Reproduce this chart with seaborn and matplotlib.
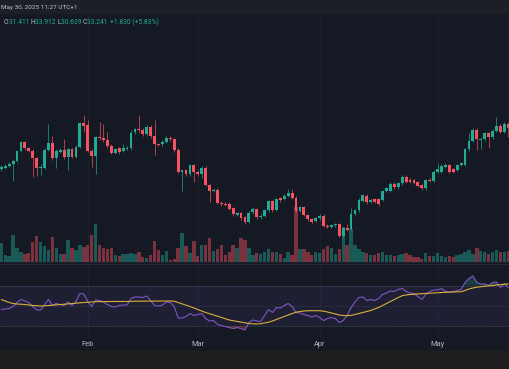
import numpy as np
import pandas as pd
import matplotlib
matplotlib.use("Agg")
import matplotlib.pyplot as plt
import seaborn as sns

# daily candles, 10 Jan 2025 -> 19 May 2025
start_date = "2025-01-10"

opens = [30.18, 30.30, 30.45, 30.55, 30.83, 31.55, 32.20, 31.75, 31.55, 31.00,
         30.25, 30.30, 31.63, 32.18, 31.00, 31.50, 31.63, 31.08, 31.70, 31.13,
         31.88, 33.63, 33.50, 31.58, 31.18, 32.60, 32.53, 32.38, 31.93, 31.43,
         31.75, 31.55, 31.70, 31.75, 32.95, 33.18, 33.10, 32.83, 33.38, 32.70,
         32.05, 32.05, 32.25, 32.55, 32.43, 31.63, 30.00, 30.10, 29.80, 30.48,
         29.98, 29.80, 30.28, 29.00, 28.55, 28.63, 27.68, 27.58, 27.58, 27.25,
         26.75, 26.88, 26.60, 26.25, 26.95, 27.20, 26.58, 26.68, 27.10, 27.80,
         27.13, 28.00, 27.95, 28.18, 28.38, 28.05, 27.05, 27.33, 26.75, 26.43,
         26.30, 26.50, 26.68, 25.95, 25.88, 25.98, 26.05, 25.18, 25.80, 25.70,
         26.85, 27.10, 27.83, 28.20, 27.75, 27.93, 27.93, 27.88, 28.55, 28.58,
         29.08, 28.83, 29.13, 29.63, 29.40, 29.35, 29.20, 29.00, 28.75, 29.40,
         29.30, 30.00, 30.00, 30.38, 30.50, 30.18, 30.13, 30.50, 30.50, 31.68,
         32.33, 33.13, 32.40, 32.43, 32.88, 32.58, 33.08, 33.43, 33.00, 33.58]
closes = [30.38, 30.45, 30.60, 30.83, 31.55, 32.20, 31.75, 31.58, 31.00, 30.25,
          30.35, 31.63, 32.18, 31.00, 31.58, 31.63, 31.08, 31.70, 31.10, 31.88,
          33.63, 33.45, 31.58, 31.18, 32.58, 32.50, 32.38, 31.93, 31.43, 31.68,
          31.48, 31.75, 31.80, 32.93, 33.18, 33.10, 32.83, 33.38, 32.70, 32.05,
          32.02, 32.25, 32.55, 32.43, 31.63, 30.00, 30.10, 29.80, 30.48, 30.00,
          29.80, 30.28, 29.00, 28.58, 28.63, 27.68, 27.55, 27.50, 27.20, 26.80,
          26.90, 26.50, 26.20, 26.93, 27.20, 26.58, 26.68, 27.10, 27.80, 27.13,
          27.93, 27.85, 28.20, 28.43, 28.05, 27.05, 27.33, 26.75, 26.43, 26.25,
          26.50, 26.68, 25.93, 25.88, 26.00, 26.05, 25.18, 25.75, 25.65, 26.85,
          27.10, 27.88, 28.25, 27.70, 27.88, 27.75, 27.55, 28.55, 28.75, 29.08,
          28.83, 29.13, 29.63, 29.25, 29.25, 29.18, 28.95, 28.75, 29.35, 29.30,
          30.00, 30.18, 30.45, 30.50, 30.00, 29.98, 30.50, 30.63, 31.70, 32.33,
          33.13, 32.43, 32.48, 32.88, 32.58, 33.08, 33.43, 33.00, 33.58, 33.30]
highs = [30.50, 30.58, 30.75, 30.95, 31.65, 32.30, 32.28, 31.85, 31.68, 31.10,
         30.55, 31.75, 33.58, 32.68, 31.70, 31.75, 32.45, 31.80, 31.80, 32.00,
         33.75, 34.25, 33.88, 31.70, 32.70, 33.75, 33.60, 33.00, 32.05, 31.80,
         31.85, 32.10, 31.95, 33.10, 33.30, 34.25, 33.25, 33.50, 33.50, 33.88,
         32.15, 32.35, 32.65, 32.65, 32.55, 31.75, 30.13, 30.20, 30.60, 30.60,
         30.10, 30.40, 30.40, 29.10, 28.75, 28.75, 27.80, 27.70, 27.70, 27.35,
         27.00, 27.00, 26.70, 27.05, 27.35, 27.30, 26.80, 27.20, 27.90, 27.90,
         28.05, 28.10, 28.30, 28.70, 28.70, 28.15, 27.45, 27.45, 26.85, 26.55,
         26.60, 26.80, 26.80, 26.05, 26.10, 26.15, 26.15, 25.85, 26.10, 27.30,
         27.20, 28.00, 28.35, 28.35, 28.00, 28.05, 28.05, 28.65, 28.85, 29.20,
         29.20, 29.25, 29.75, 29.75, 29.50, 29.45, 29.30, 29.10, 29.45, 29.55,
         30.10, 30.65, 30.55, 30.65, 30.60, 30.28, 30.60, 30.75, 31.80, 32.90,
         33.25, 33.25, 32.60, 33.00, 33.00, 33.20, 34.13, 33.55, 33.70, 33.70]
lows = [30.05, 30.20, 30.35, 29.33, 30.72, 31.45, 31.60, 31.45, 29.63, 29.70,
        29.75, 30.20, 31.55, 30.90, 30.28, 31.40, 30.95, 30.13, 31.00, 31.00,
        31.80, 33.00, 31.45, 30.38, 29.83, 32.40, 32.25, 31.80, 31.30, 31.30,
        31.35, 31.45, 31.60, 31.65, 32.85, 33.00, 32.70, 32.70, 32.55, 31.25,
        31.90, 31.95, 32.15, 32.30, 31.50, 29.90, 28.58, 29.65, 29.70, 29.25,
        29.70, 29.55, 28.90, 27.75, 28.45, 27.55, 27.45, 27.40, 27.10, 26.70,
        26.65, 26.40, 26.10, 26.15, 26.85, 26.45, 26.48, 26.58, 27.00, 27.00,
        27.05, 27.75, 27.85, 28.08, 27.95, 26.95, 26.95, 26.65, 26.33, 26.15,
        26.20, 26.40, 25.83, 25.78, 25.78, 25.88, 25.08, 25.08, 25.55, 25.60,
        26.75, 27.00, 27.73, 27.60, 27.65, 27.65, 27.45, 27.78, 28.45, 28.48,
        28.73, 28.73, 29.03, 29.15, 29.15, 29.08, 28.85, 28.60, 28.65, 29.20,
        29.20, 29.90, 29.90, 30.28, 29.90, 29.88, 30.03, 30.40, 30.40, 31.58,
        32.23, 31.63, 31.70, 32.33, 31.80, 32.48, 32.98, 32.90, 32.90, 32.63]
# volume, thousands
volumes = [1870, 700, 600, 2700, 1430, 1030, 800, 930, 2030, 2600,
           2030, 1600, 1200, 2470, 1430, 800, 800, 2200, 1370, 1200,
           1700, 1500, 1700, 2700, 3800, 1700, 1400, 1300, 1400, 700,
           600, 800, 800, 930, 770, 1000, 500, 400, 730, 2070,
           1170, 670, 1130, 200, 270, 1400, 2900, 1600, 900, 2070,
           570, 1670, 1670, 2400, 1070, 1330, 1730, 670, 1000, 1670,
           1430, 2400, 2230, 1430, 670, 900, 830, 1000, 1330, 1000,
           1000, 830, 430, 1000, 670, 5500, 1330, 1270, 1000, 730,
           1000, 900, 1270, 1600, 1400, 830, 1270, 3500, 1730, 3300,
           1730, 1270, 1000, 930, 730, 730, 930, 1000, 670, 730,
           600, 730, 830, 900, 670, 500, 500, 330, 930, 600,
           600, 900, 600, 470, 600, 500, 730, 830, 1000, 1170,
           770, 1400, 1100, 1000, 830, 1000, 1230, 1000, 1000, 1100]
rsi = [46, 46.5, 47, 49, 53, 56, 54.5, 53, 49, 45.5,
       45.5, 51, 56, 50, 52, 51, 50, 53.5, 50, 54,
       62, 61.5, 54, 49, 55.5, 55, 53.5, 51, 49, 48.5,
       50, 50.5, 50.5, 57, 58.5, 58.5, 58, 59.5, 55, 50,
       49.5, 50.5, 53.5, 53, 49, 37.5, 37.5, 39, 42, 40,
       41, 42, 37, 34.5, 35, 31, 30, 29, 28, 27,
       28, 27, 25.5, 33, 35.5, 34.5, 34, 40, 46, 43,
       48, 47.5, 50, 52, 49, 43, 42.5, 41, 40, 38.5,
       40, 38, 35, 37, 38, 37, 33, 35, 40, 48,
       53.5, 58, 58.5, 55, 56, 55, 57, 61, 62.5, 64.5,
       64, 66, 67, 64, 62.5, 62, 59, 56, 61, 64,
       65.5, 65.5, 67, 64, 63.5, 64, 65, 66, 73, 77,
       79.5, 73, 71.5, 71.5, 70, 73, 73.5, 68, 72, 68]
rsi_ma = [56, 54.5, 53, 52, 51.5, 51.3, 51, 50.5, 50, 49.7,
          49.5, 49.7, 50, 50.3, 50.6, 51, 51.3, 51.6, 52, 52.3,
          52.7, 53, 53.3, 53.5, 53.8, 53.8, 53.9, 54, 54, 54,
          54, 54, 54, 54.2, 54.3, 54.3, 54.3, 54.4, 54.4, 54.4,
          54.5, 54.5, 54.5, 54.5, 54.3, 53, 51.8, 50.5, 49, 47.5,
          46, 44.5, 43, 41.8, 40.5, 39.3, 38, 36.8, 35.5, 34.8,
          34, 33.3, 32.6, 32, 31.6, 31.5, 31.8, 32.5, 33.3, 34.5,
          36, 37.5, 39, 40.5, 42, 43.3, 44, 44.5, 44.8, 44.8,
          44.8, 44.8, 44.3, 43.5, 42.5, 41.5, 40.5, 40, 39.8, 40.2,
          41, 42, 43, 44, 45, 46.5, 48, 50, 52, 54,
          56, 58, 59.8, 60.5, 61, 61.3, 61.6, 61.8, 62, 62.3,
          62.5, 62.8, 63, 63.2, 63.3, 63.5, 63.6, 63.8, 65, 66.5,
          67.5, 68.3, 68.8, 69.3, 69.7, 70, 70.5, 70.8, 71.2, 71.5]

header = "May 30, 2025 11:27 UTC+1"
ohlc_labels = ["O", "H", "L", "C"]
ohlc_values = ["31.411", "33.912", "30.639", "33.241"]
change_text = "+1.830 (+5.83%)"

BG = "#151924"
UP = "#22ab94"
DOWN = "#f7525f"
GRID = "#1d2130"
TXT = "#b2b5be"

sns.set_theme(style="dark", rc={"axes.facecolor": BG, "figure.facecolor": BG})
plt.rcParams["font.family"] = ["Roboto", "DejaVu Sans"]

df = pd.DataFrame({
    "date": pd.date_range(start_date, periods=len(opens)),
    "open": opens, "high": highs, "low": lows, "close": closes,
    "volume": volumes, "rsi": rsi, "rsi_ma": rsi_ma,
})
df["idx"] = np.arange(len(df))
up = df["close"] >= df["open"]
colors = np.where(up, UP, DOWN)

W, H = 510, 369
fig = plt.figure(figsize=(W / 100, H / 100), dpi=100)

def box(top, bottom):
    return [0, (H - bottom) / H, 1, (bottom - top) / H]

ax = fig.add_axes(box(13, 263))
axv = fig.add_axes(box(13, 263), sharex=ax)
axr = fig.add_axes(box(264, 338), sharex=ax)
axv.patch.set_alpha(0)
axv.set_zorder(0)
ax.set_zorder(1)
ax.patch.set_alpha(0)

# header / footer strips
fig.patches.append(plt.Rectangle((0, (H - 13) / H), 1, 13 / H, transform=fig.transFigure,
                                 color="#1c1f28", zorder=-1))
fig.patches.append(plt.Rectangle((0, 0), 1, 18 / H, transform=fig.transFigure,
                                 color="#1f1f1f", zorder=-1))

xlim = (-0.33, -0.33 + W / 3.93)
month_ticks = df.index[df["date"].dt.day == 1]
month_labels = df.loc[month_ticks, "date"].dt.strftime("%b")

# volume
axv.bar(df["idx"], df["volume"], width=0.86, color=colors, alpha=0.45, linewidth=0)
axv.set_ylim(-100, 24900)

# candles
ax.vlines(df["idx"], df["low"], df["high"], color=colors, linewidth=0.55, alpha=0.85)
body_lo = np.minimum(df["open"], df["close"])
body_h = np.maximum((df["close"] - df["open"]).abs(), 0.06)
ax.bar(df["idx"], body_h, bottom=body_lo, width=0.72, color=colors, linewidth=0)
ax.set_ylim(23.15, 41.9)
ax.set_xlim(*xlim)

for a in (ax, axv):
    a.set_yticks([23.75, 27.5, 31.25, 35, 38.75])
    a.tick_params(left=False, bottom=False, labelleft=False, labelbottom=False)
    for s in a.spines.values():
        s.set_visible(False)
axv.grid(True, color=GRID, linewidth=0.6)
axv.set_xticks(month_ticks)
ax.grid(False)

# rsi pane
axr.axhspan(30, 70, color="#7e57c2", alpha=0.1, linewidth=0)
for lvl, a_ in ((70, 0.7), (50, 0.35), (30, 0.7)):
    axr.axhline(lvl, color="#787b86", linestyle=(0, (1.5, 1.5)), linewidth=0.5, alpha=a_)
r = np.array(rsi)
axr.fill_between(df["idx"], 70, r, where=r > 70, color="#22ab94", alpha=0.25,
                 linewidth=0, interpolate=True)
axr.fill_between(df["idx"], 30, r, where=r < 30, color="#f7525f", alpha=0.25,
                 linewidth=0, interpolate=True)
sns.lineplot(data=df, x="idx", y="rsi", ax=axr, color="#7e57c2", linewidth=0.8)
sns.lineplot(data=df, x="idx", y="rsi_ma", ax=axr, color="#d9b13a", linewidth=0.8)
axr.set_ylim(17.5, 91.5)
axr.set_xlim(*xlim)
axr.set_xticks(month_ticks)
axr.set_xticklabels(month_labels)
axr.set_xlabel("")
axr.set_ylabel("")
axr.set_yticks([])
axr.grid(True, axis="x", color=GRID, linewidth=0.6)
axr.tick_params(axis="x", length=0, pad=2.5, labelsize=5.3, labelcolor=TXT)
for s in axr.spines.values():
    s.set_visible(False)
axr.spines["top"].set_visible(True)
axr.spines["top"].set_color("#262a36")
axr.spines["top"].set_linewidth(0.8)

# texts: header, then the OHLC legend chained piece by piece
renderer = fig.canvas.get_renderer()
t = fig.text(1 / W, 1 - 7 / H, header, color="#c3c6cd", fontsize=5, va="center", ha="left")
w = t.get_window_extent(renderer).width
t.set_fontsize(5 * 77 / w)

pieces = []
for lab, val in zip(ohlc_labels, ohlc_values):
    pieces += [(lab, TXT), (val + " ", UP)]
pieces.append((change_text, UP))

def draw_chain(fs):
    arts = []
    prev = fig.text(4 / W, 1 - 22 / H, pieces[0][0], color=pieces[0][1], fontsize=fs,
                    va="center", ha="left")
    arts.append(prev)
    for txt, col in pieces[1:]:
        prev = fig.text(0, 0, txt, color=col, fontsize=fs, va="center", ha="left",
                        transform=prev.get_transform())
        arts.append(prev)
    return arts

fs = 5
arts = draw_chain(fs)
x = 4
for a in arts:
    a.set_position((x / W, 1 - 22 / H))
    x += a.get_window_extent(renderer).width
scale = 158 / (x - 4)
x = 4
for a in arts:
    a.set_fontsize(fs * scale)
    a.set_position((x / W, 1 - 22 / H))
    x += a.get_window_extent(renderer).width

fig.savefig("out.png", dpi=100, facecolor=BG)
